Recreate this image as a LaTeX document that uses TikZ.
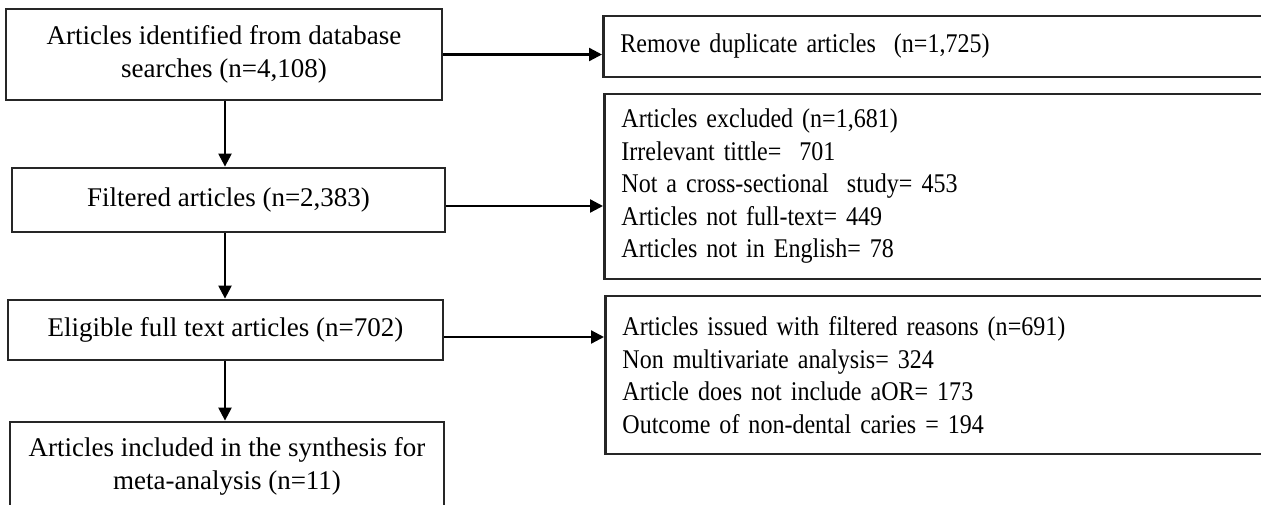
\documentclass[tikz,border=0pt]{standalone}
\usepackage{fontspec}
\setmainfont{Liberation Serif}
\newfontfamily\narrowserif{Liberation Serif}[FakeStretch=0.89]
\usetikzlibrary{arrows.meta}
\begin{document}
\begin{tikzpicture}[x=1pt,y=-1pt,
  box/.style={draw=black!85, line width=2.8pt, rectangle, inner sep=0pt},
  cbox/.style={box, align=center, font=\fontsize{27}{33}\selectfont},
  lbox/.style={box, align=left, inner xsep=17pt, text width=638pt, minimum width=672pt,
    font=\narrowserif\fontsize{27}{32.5}\selectfont},
  arr/.style={line width=2.3pt, -{Triangle[length=13pt,width=13pt]}}]
\clip (0,0) rectangle (1261,504);
\fill[white] (0,0) rectangle (1261,504);
% left column
\node[cbox, minimum width=436pt, minimum height=91pt] (b1) at (224,54.5)
  {Articles identified from database\\searches (n=4,108)};
\node[cbox, minimum width=433pt, minimum height=64pt] (b2) at (228.5,200)
  {Filtered articles (n=2,383)};
\node[cbox, minimum width=435pt, minimum height=60pt] (b3) at (225.5,330)
  {Eligible full text articles (n=702)};
\node[cbox, minimum width=434pt, minimum height=89pt] (b4) at (227,466.5)
  {Articles included in the synthesis for\\meta-analysis (n=11)};
% right column
\node[lbox, minimum height=61pt, anchor=west] (r1) at (602,46.5)
  {Remove duplicate articles\ \ (n=1,725)};
\node[lbox, minimum height=185pt, anchor=west] (r2) at (603,186.5)
  {Articles excluded (n=1,681)\\Irrelevant tittle=\ \ 701\\Not a cross-sectional\ \ study= 453\\Articles not full-text= 449\\Articles not in English= 78};
\node[lbox, minimum height=158pt, anchor=west] (r3) at (604,375)
  {Articles issued with filtered reasons (n=691)\\Non multivariate analysis= 324\\Article does not include aOR= 173\\Outcome of non-dental caries = 194};
% connectors
\draw[arr] (b1.south -| 225,0) -- (b2.north -| 225,0);
\draw[arr] (b2.south -| 225,0) -- (b3.north -| 225,0);
\draw[arr] (b3.south -| 225,0) -- (b4.north -| 225,0);
\draw[arr] (b1.east) -- (b1.east -| r1.west);
\draw[arr] ([yshift=-6pt]b2.east) -- ([yshift=-6pt]b2.east -| r2.west);
\draw[arr] ([yshift=-7pt]b3.east) -- ([yshift=-7pt]b3.east -| r3.west);
\end{tikzpicture}
\end{document}
